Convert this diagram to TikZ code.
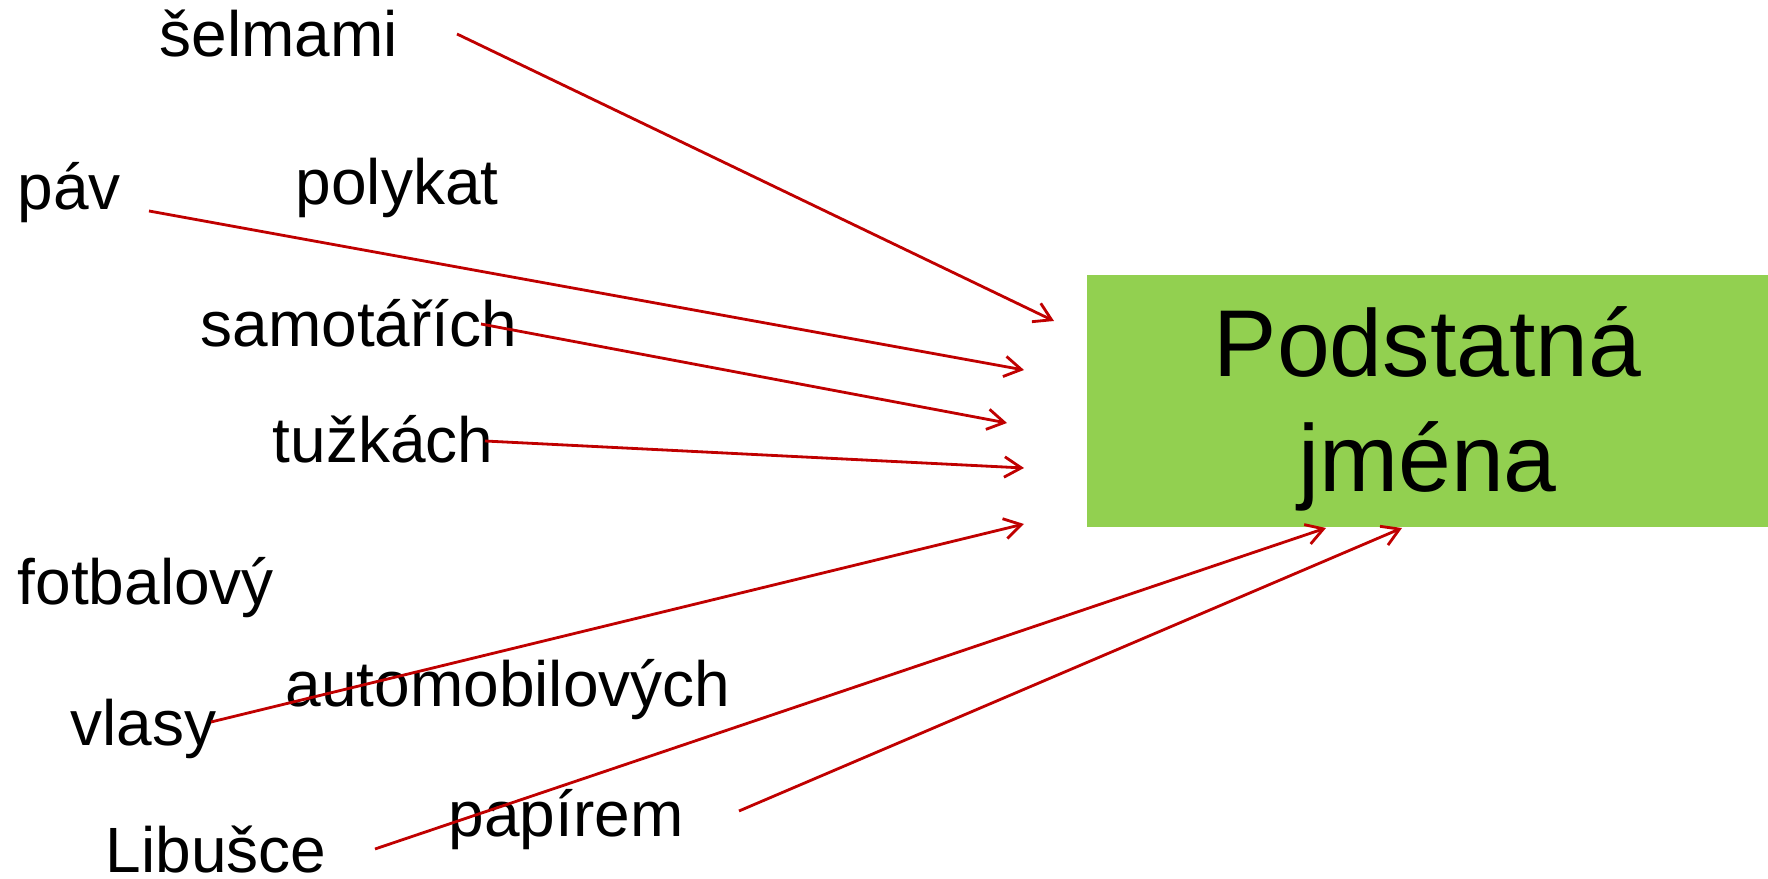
\documentclass[tikz,border=0pt]{standalone}
\usepackage{fontspec}
\setmainfont{Liberation Sans}
\usetikzlibrary{arrows.meta}
\definecolor{boxgreen}{HTML}{92D050}
\definecolor{linkred}{HTML}{C00000}
\begin{document}
\begin{tikzpicture}[x=0.01cm,y=-0.01cm,
  word/.style={anchor=base west,inner sep=0pt,font=\fontsize{18.2}{22}\selectfont},
  link/.style={draw=linkred,line width=0.8pt,-{Straight Barb[length=4.8pt,width=5.8pt]}}]
\useasboundingbox (0,0) rectangle (1768,879);
\fill[boxgreen] (1087,275) rectangle (1768,527);
\node (noun) [align=center,font=\fontsize{27}{32.7}\selectfont] at (1427.5,409) {Podstatná\\jména};
\node (selmami) [word] at (159,57) {šelmami};
\node (pav) [word] at (17,210) {páv};
\node (polykat) [word] at (295,205) {polykat};
\node (samotarich) [word] at (200,347) {samotářích};
\node (tuzkach) [word] at (272,463) {tužkách};
\node (fotbalovy) [word] at (17,605) {fotbalový};
\node (vlasy) [word] at (70,746) {vlasy};
\node (automobilovych) [word] at (285,707) {automobilových};
\node (libusce) [word] at (105,873) {Libušce};
\node (papirem) [word] at (448,837) {papírem};
% free ends of the arrows
\coordinate (s1) at (457,34);  \coordinate (t1) at (1054,321);
\coordinate (s2) at (149,211); \coordinate (t2) at (1024,370);
\coordinate (s3) at (481,324); \coordinate (t3) at (1007,423);
\coordinate (s4) at (485,441); \coordinate (t4) at (1024,468);
\coordinate (s5) at (211,722); \coordinate (t5) at (1024,524);
\coordinate (s6) at (375,849); \coordinate (t6) at (1326,528);
\coordinate (s7) at (739,811); \coordinate (t7) at (1402,528);
\foreach \i in {1,...,7}
{\draw[link] (s\i) -- (t\i);
}
\end{tikzpicture}
\end{document}
